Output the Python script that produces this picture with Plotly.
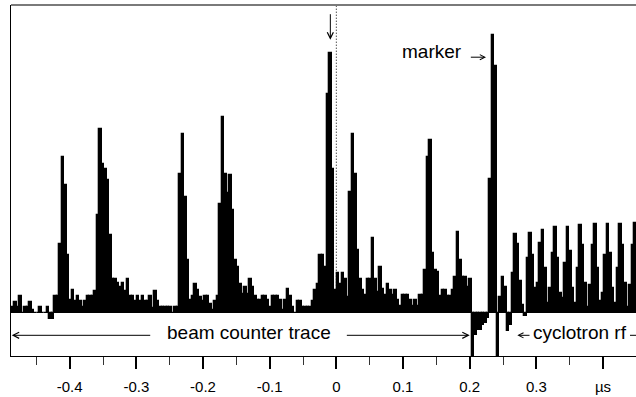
import numpy as np
import plotly.graph_objects as go

# ---- data -------------------------------------------------------------
t_start = -0.4869      # µs, left edge of the first bin
bin_width = 0.00375    # µs
counts = [
    6, 11, 6, 17, 0, 6, 6, 11, 3, 0,
    0, 6, 0, 0, 6, -6, -6, 17, 17, 69,
    156, 128, 58, 13, 23, 12, 17, 12, 6, 12,
    17, 17, 17, 22, 98, 184, 149, 144, 133, 78,
    34, 34, 30, 26, 30, 22, 34, 17, 17, 12,
    17, 12, 17, 12, 12, 17, 5, 22, 12, 6,
    6, 6, 6, 6, 0, 6, 6, 139, 179, 116,
    53, 13, 17, 29, 23, 16, 12, 17, 17, 9,
    3, 12, 17, 109, 196, 139, 120, 138, 103, 53,
    46, 29, 19, 26, 19, 34, 26, 17, 13, 13,
    17, 17, 13, 6, 17, 17, 17, 13, 3, 13,
    24, 17, 6, 0, 12, 12, 6, 6, 6, 6,
    12, 23, 29, 58, 58, 46, 219, 260, 144, 23,
    40, 29, 40, 34, 16, 121, 179, 139, 63, 34,
    23, 18, 34, 34, 75, 34, 21, 46, 24, 18,
    29, 23, 18, 23, 13, 7, 18, 18, 18, 13,
    7, 13, 7, 18, 18, 43, 156, 173, 60, 43,
    41, 17, 23, 23, 17, 17, 23, 36, 81, 53,
    36, 36, 26, 34, -43, -22, -17, -17, -12, -10,
    -5, 134, 278, 247, -43, 16, 36, 26, -18, -12,
    40, 79, 69, 32, 8, -3, 55, 80, 58, 25,
    30, 70, 83, 45, 10, 25, 60, 86, 55, 20,
    15, 50, 86, 62, 25, 10, 45, 88, 68, 30,
    6, 28, 68, 89, 45, 12, 20, 58, 89, 60,
    25, 10, 45, 89, 68, 30, 6, 28, 68, 90,
]
tick_vals = [-0.4, -0.3, -0.2, -0.1, 0, 0.1, 0.2, 0.3, 0.4]
tick_text = ["-0.4", "-0.3", "-0.2", "-0.1", "0", "0.1", "0.2", "0.3", "µs"]
minor_vals = [-0.45, -0.35, -0.25, -0.15, -0.05, 0.05, 0.15, 0.25, 0.35, 0.45]

centers = t_start + bin_width * (np.arange(len(counts)) + 0.5)

FONT = "Liberation Sans, Arial, Helvetica, sans-serif"

fig = go.Figure(
    go.Bar(
        x=centers, y=counts, width=bin_width,
        marker=dict(color="black", line=dict(width=1.3, color="black")),
        hoverinfo="skip",
    )
)

fig.update_layout(
    width=636, height=397,
    margin=dict(l=11, r=0, t=5, b=41),
    plot_bgcolor="white", paper_bgcolor="white",
    showlegend=False, bargap=0,
    font=dict(family=FONT, color="black"),
)
fig.update_xaxes(
    range=[-0.488, 0.4495], showgrid=False, zeroline=False,
    showline=True, linecolor="black", linewidth=1,
    ticks="outside", ticklen=12, tickwidth=1.5, tickcolor="black",
    tickmode="array", tickvals=tick_vals, ticktext=tick_text,
    tickfont=dict(size=15, family=FONT, color="black"),
    ticklabelstandoff=5,
    minor=dict(ticks="outside", ticklen=8, tickwidth=1, tickcolor="#333",
               tickmode="array", tickvals=minor_vals),
)
fig.update_yaxes(
    range=[-43.3, 307.7], showgrid=False, zeroline=False,
    showline=True, linecolor="black", linewidth=1,
    showticklabels=False, ticks="",
)

# dotted time-zero line and gray top frame
fig.add_shape(type="line", xref="x", yref="y", x0=0, x1=0, y0=0, y1=307.7,
              line=dict(color="black", width=1, dash="1px,2px"), layer="above")
fig.add_shape(type="line", xref="paper", yref="paper", x0=0, x1=1, y0=1, y1=1,
              line=dict(color="#7a7a7a", width=2), layer="above")

TF = dict(size=19, family=FONT, color="black")

def arrow(x_tip, y_tip, x_tail, y_tail, size=1.2):
    fig.add_annotation(x=x_tip, y=y_tip, ax=x_tail, ay=y_tail,
                       xref="x", yref="y", axref="x", ayref="y",
                       text="", showarrow=True, arrowhead=5,
                       arrowsize=size, arrowwidth=1, arrowcolor="black",
                       standoff=0, startstandoff=0)

# down arrow above the t=0 peak
arrow(-0.009, 273, -0.009, 300)
# marker label
fig.add_annotation(x=0.1435, y=261, xref="x", yref="y", text="marker",
                   showarrow=False, font=TF, xanchor="center", yanchor="middle")
arrow(0.2245, 255.5, 0.1995, 255.5, size=1.0)
# beam counter trace label with arrows
fig.add_annotation(x=-0.1317, y=-20, xref="x", yref="y", text="beam counter trace",
                   showarrow=False, font=TF, xanchor="center", yanchor="middle")
arrow(-0.4869, -22.6, -0.2769, -22.6)
arrow(0.2001, -22.6, 0.0135, -22.6)
# cyclotron rf label
fig.add_annotation(x=0.3655, y=-20, xref="x", yref="y", text="cyclotron rf",
                   showarrow=False, font=TF, xanchor="center", yanchor="middle")
arrow(0.2715, -22.6, 0.292, -22.6, size=1.0)
fig.add_shape(type="line", xref="x", yref="y", x0=0.4405, x1=0.4495,
              y0=-22.6, y1=-22.6, line=dict(color="black", width=1))

fig.write_html("out.html")
